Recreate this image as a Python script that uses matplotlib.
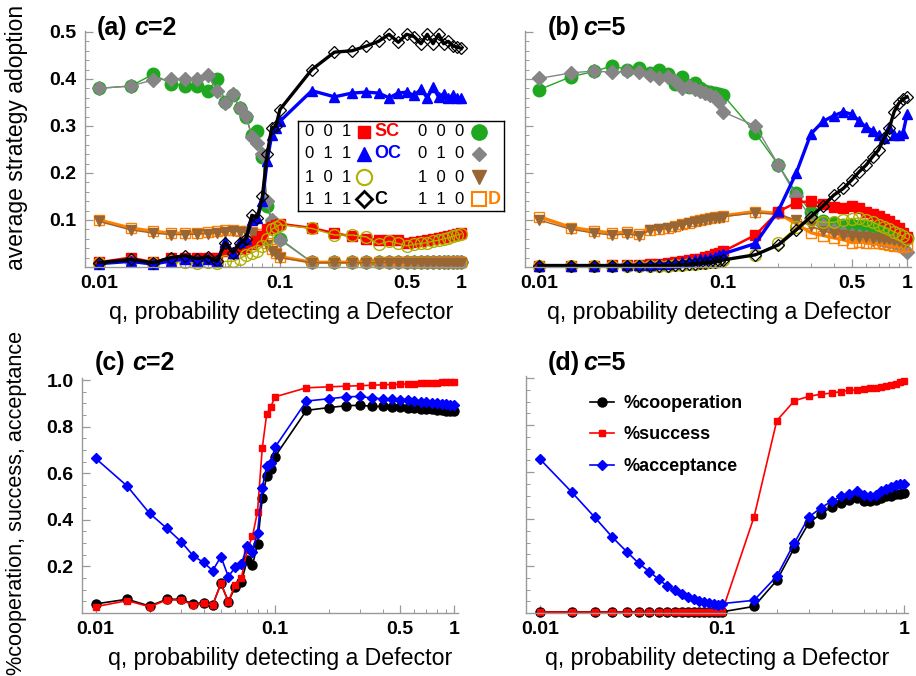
import matplotlib.pyplot as plt
from matplotlib.ticker import FixedLocator, MultipleLocator, NullFormatter

plt.rcParams['font.family'] = ['Liberation Sans', 'DejaVu Sans']

# q grid (probability of detecting a defector)
q = [0.01, 0.015, 0.02, 0.025, 0.03, 0.035, 0.04, 0.045, 0.05, 0.055,
     0.06, 0.065, 0.07, 0.075, 0.08, 0.085, 0.09, 0.095, 0.1,
     0.15, 0.2, 0.25, 0.3, 0.35, 0.4, 0.45, 0.5, 0.55, 0.6, 0.65,
     0.7, 0.75, 0.8, 0.85, 0.9, 0.95, 1.0]

# ---- panel (a), c=2 : average strategy adoption
a_001 = [0.010, 0.020, 0.010, 0.020, 0.020, 0.020, 0.020, 0.020, 0.035, 0.030,
         0.038, 0.042, 0.048, 0.055, 0.065, 0.080, 0.085, 0.090, 0.092,
         0.083, 0.072, 0.065, 0.060, 0.058, 0.057, 0.057, 0.050, 0.054, 0.056, 0.058,
         0.060, 0.062, 0.064, 0.066, 0.068, 0.070, 0.072]
a_011 = [0.007, 0.012, 0.006, 0.013, 0.017, 0.012, 0.016, 0.013, 0.054, 0.030,
         0.054, 0.060, 0.100, 0.104, 0.140, 0.225, 0.280, 0.295, 0.310,
         0.375, 0.362, 0.370, 0.372, 0.370, 0.360, 0.370, 0.372, 0.365, 0.378, 0.360,
         0.382, 0.362, 0.368, 0.360, 0.365, 0.360, 0.360]
a_101 = [0.008, 0.012, 0.008, 0.012, 0.010, 0.008, 0.010, 0.008, 0.012, 0.012,
         0.018, 0.025, 0.030, 0.035, 0.045, 0.060, 0.080, 0.085, 0.090,
         0.082, 0.068, 0.068, 0.064, 0.048, 0.055, 0.050, 0.045, 0.048, 0.050, 0.052,
         0.055, 0.057, 0.060, 0.062, 0.065, 0.068, 0.070]
a_111 = [0.009, 0.016, 0.009, 0.020, 0.024, 0.018, 0.022, 0.012, 0.052, 0.030,
         0.050, 0.060, 0.110, 0.105, 0.150, 0.240, 0.295, 0.300, 0.335,
         0.420, 0.457, 0.460, 0.470, 0.480, 0.495, 0.478, 0.495, 0.490, 0.475, 0.495,
         0.475, 0.495, 0.475, 0.480, 0.470, 0.468, 0.465]
a_000 = [0.380, 0.385, 0.410, 0.390, 0.385, 0.385, 0.375, 0.400, 0.350, 0.365,
         0.338, 0.320, 0.280, 0.290, 0.235, 0.130, 0.095, 0.085, 0.060,
         0.010, 0.010, 0.010, 0.010, 0.010, 0.010, 0.010, 0.010, 0.010, 0.010, 0.010,
         0.010, 0.010, 0.010, 0.010, 0.010, 0.010, 0.010]
a_010 = [0.380, 0.385, 0.398, 0.400, 0.400, 0.400, 0.408, 0.375, 0.348, 0.368,
         0.338, 0.322, 0.277, 0.263, 0.240, 0.140, 0.100, 0.090, 0.058,
         0.010, 0.010, 0.010, 0.010, 0.010, 0.010, 0.010, 0.010, 0.010, 0.010, 0.010,
         0.010, 0.010, 0.010, 0.010, 0.010, 0.010, 0.010]
a_100 = [0.097, 0.079, 0.072, 0.069, 0.069, 0.070, 0.071, 0.073, 0.075, 0.077,
         0.075, 0.074, 0.072, 0.066, 0.058, 0.046, 0.034, 0.027, 0.020,
         0.009, 0.009, 0.009, 0.009, 0.009, 0.009, 0.009, 0.009, 0.009, 0.009, 0.009,
         0.009, 0.009, 0.009, 0.009, 0.009, 0.009, 0.009]
a_110 = [0.100, 0.083, 0.076, 0.072, 0.072, 0.073, 0.074, 0.076, 0.078, 0.079,
         0.077, 0.076, 0.074, 0.070, 0.062, 0.050, 0.038, 0.030, 0.022,
         0.010, 0.010, 0.010, 0.010, 0.010, 0.010, 0.010, 0.010, 0.010, 0.010, 0.010,
         0.010, 0.010, 0.010, 0.010, 0.010, 0.010, 0.010]

# ---- panel (b), c=5
b_001 = [0.003, 0.003, 0.003, 0.004, 0.004, 0.005, 0.006, 0.007, 0.008, 0.010,
         0.012, 0.014, 0.016, 0.018, 0.021, 0.024, 0.027, 0.030, 0.033,
         0.068, 0.118, 0.137, 0.140, 0.135, 0.128, 0.126, 0.130, 0.125, 0.118, 0.112,
         0.108, 0.103, 0.098, 0.090, 0.082, 0.072, 0.064]
b_011 = [0.003, 0.003, 0.003, 0.003, 0.004, 0.004, 0.005, 0.006, 0.007, 0.008,
         0.010, 0.012, 0.014, 0.016, 0.018, 0.020, 0.022, 0.025, 0.028,
         0.050, 0.120, 0.200, 0.283, 0.310, 0.322, 0.330, 0.325, 0.310, 0.297, 0.290,
         0.280, 0.275, 0.295, 0.280, 0.280, 0.285, 0.325]
b_101 = [0.003, 0.003, 0.003, 0.003, 0.003, 0.003, 0.003, 0.003, 0.003, 0.004,
         0.005, 0.006, 0.007, 0.008, 0.009, 0.010, 0.011, 0.012, 0.014,
         0.025, 0.050, 0.085, 0.100, 0.095, 0.095, 0.100, 0.103, 0.104, 0.100, 0.095,
         0.090, 0.085, 0.080, 0.075, 0.070, 0.065, 0.060]
b_111 = [0.003, 0.003, 0.003, 0.003, 0.003, 0.003, 0.003, 0.003, 0.003, 0.004,
         0.005, 0.006, 0.007, 0.008, 0.009, 0.010, 0.011, 0.013, 0.015,
         0.026, 0.047, 0.079, 0.107, 0.130, 0.153, 0.167, 0.185, 0.203, 0.217, 0.235,
         0.249, 0.274, 0.295, 0.330, 0.348, 0.357, 0.362]
b_000 = [0.377, 0.405, 0.416, 0.428, 0.420, 0.423, 0.412, 0.418, 0.410, 0.390,
         0.405, 0.383, 0.392, 0.380, 0.375, 0.372, 0.370, 0.368, 0.366,
         0.285, 0.217, 0.157, 0.118, 0.097, 0.094, 0.090, 0.089, 0.088, 0.087, 0.086,
         0.085, 0.083, 0.080, 0.078, 0.074, 0.068, 0.062]
b_010 = [0.401, 0.413, 0.417, 0.414, 0.416, 0.414, 0.409, 0.401, 0.404, 0.395,
         0.380, 0.384, 0.378, 0.375, 0.370, 0.366, 0.362, 0.350, 0.330,
         0.300, 0.217, 0.150, 0.105, 0.090, 0.078, 0.072, 0.068, 0.066, 0.063, 0.060,
         0.058, 0.056, 0.054, 0.050, 0.046, 0.040, 0.032]
b_100 = [0.100, 0.080, 0.072, 0.068, 0.070, 0.067, 0.078, 0.080, 0.082, 0.086,
         0.089, 0.093, 0.095, 0.098, 0.100, 0.102, 0.104, 0.105, 0.107,
         0.115, 0.112, 0.100, 0.088, 0.076, 0.072, 0.068, 0.065, 0.064, 0.063, 0.062,
         0.061, 0.060, 0.059, 0.057, 0.055, 0.054, 0.053]
b_110 = [0.107, 0.084, 0.077, 0.072, 0.074, 0.070, 0.079, 0.081, 0.084, 0.088,
         0.091, 0.094, 0.097, 0.100, 0.102, 0.104, 0.106, 0.107, 0.109,
         0.118, 0.114, 0.092, 0.073, 0.067, 0.062, 0.058, 0.052, 0.053, 0.052, 0.050,
         0.050, 0.048, 0.046, 0.044, 0.045, 0.043, 0.045]

# ---- panel (c), c=2 : cooperation / success / acceptance
c_coop = [0.039, 0.059, 0.030, 0.059, 0.059, 0.039, 0.044, 0.034, 0.127, 0.049,
          0.110, 0.132, 0.227, 0.206, 0.295, 0.492, 0.589, 0.617, 0.671,
          0.870, 0.882, 0.890, 0.892, 0.887, 0.887, 0.885, 0.883, 0.882, 0.880, 0.878,
          0.877, 0.875, 0.872, 0.870, 0.868, 0.867, 0.867]
c_succ = [0.027, 0.053, 0.027, 0.056, 0.056, 0.034, 0.041, 0.034, 0.127, 0.049,
          0.120, 0.150, 0.270, 0.330, 0.435, 0.707, 0.854, 0.886, 0.928,
          0.967, 0.971, 0.974, 0.976, 0.978, 0.980, 0.981, 0.982, 0.984, 0.985, 0.986,
          0.987, 0.988, 0.989, 0.990, 0.991, 0.992, 0.993]
c_acc = [0.664, 0.545, 0.428, 0.363, 0.306, 0.246, 0.217, 0.182, 0.242, 0.156,
         0.196, 0.209, 0.288, 0.263, 0.345, 0.538, 0.631, 0.645, 0.711,
         0.910, 0.920, 0.928, 0.930, 0.922, 0.920, 0.918, 0.915, 0.913, 0.910, 0.908,
         0.905, 0.903, 0.900, 0.898, 0.896, 0.895, 0.893]

# ---- panel (d), c=5
d_coop = [0.005, 0.005, 0.005, 0.005, 0.005, 0.005, 0.005, 0.005, 0.005, 0.005,
          0.005, 0.005, 0.005, 0.005, 0.005, 0.005, 0.005, 0.005, 0.005,
          0.028, 0.139, 0.278, 0.384, 0.422, 0.452, 0.469, 0.483, 0.490, 0.476, 0.476,
          0.483, 0.490, 0.497, 0.500, 0.507, 0.508, 0.510]
d_succ = [0.004, 0.004, 0.004, 0.004, 0.004, 0.004, 0.004, 0.004, 0.004, 0.004,
          0.004, 0.004, 0.004, 0.004, 0.004, 0.004, 0.004, 0.004, 0.004,
          0.409, 0.819, 0.904, 0.922, 0.932, 0.936, 0.943, 0.948, 0.950, 0.953, 0.956,
          0.960, 0.964, 0.968, 0.972, 0.977, 0.982, 0.987]
d_acc = [0.656, 0.514, 0.408, 0.323, 0.261, 0.211, 0.176, 0.143, 0.115, 0.096,
         0.079, 0.068, 0.058, 0.051, 0.045, 0.041, 0.038, 0.036, 0.040,
         0.054, 0.157, 0.299, 0.409, 0.448, 0.476, 0.497, 0.508, 0.518, 0.504, 0.500,
         0.504, 0.518, 0.530, 0.537, 0.547, 0.550, 0.548]

GREEN = '#1fa81f'
GRAY = '#858585'
BROWN = '#996633'
ORANGE = '#ff8000'
OLIVE = '#b0b000'
RED = '#ff0000'
BLUE = '#0000ff'

# strategy styles, drawn in this order
strat_style = [
    ('000', dict(color=GREEN, lw=1.0, marker='o', ms=9, mfc=GREEN, mec=GREEN)),
    ('010', dict(color=GRAY, lw=1.0, marker='D', ms=7, mfc=GRAY, mec=GRAY)),
    ('110', dict(color=ORANGE, lw=2.4, marker='s', ms=7, mfc='none', mec=ORANGE, mew=1.0)),
    ('100', dict(color=BROWN, lw=1.0, marker='v', ms=6.5, mfc=BROWN, mec=BROWN)),
    ('001', dict(color=RED, lw=1.8, marker='s', ms=6.5, mfc=RED, mec=RED)),
    ('101', dict(color=OLIVE, lw=1.0, marker='o', ms=8.5, mfc='none', mec=OLIVE, mew=1.0)),
    ('011', dict(color=BLUE, lw=2.4, marker='^', ms=7.5, mfc=BLUE, mec=BLUE)),
    ('111', dict(color='black', lw=2.4, marker='D', ms=5.8, mfc='none', mec='black', mew=0.9)),
]

W, H = 916, 676
fig = plt.figure(figsize=(W / 100, H / 100), dpi=100)


def px_axes(l, t, r, b):
    return fig.add_axes([l / W, 1 - b / H, (r - l) / W, (b - t) / H])


ax_a = px_axes(85, 31, 465, 267)
ax_b = px_axes(525, 31, 911, 267)
ax_c = px_axes(82, 378, 458, 613)
ax_d = px_axes(526, 376, 908, 613)

AXC = '#999999'
for ax in (ax_a, ax_b, ax_c, ax_d):
    ax.set_xscale('log')
    ax.set_xlim(0.0084, 1.05)
    for s in ('top', 'right'):
        ax.spines[s].set_visible(False)
    for s in ('left', 'bottom'):
        ax.spines[s].set_color(AXC)
        ax.spines[s].set_linewidth(1.0)
    ax.tick_params(which='both', direction='in', color=AXC, labelsize=14)
    ax.tick_params(which='major', length=6, width=0.9)
    ax.tick_params(which='minor', length=3, width=0.7)
    ax.tick_params(axis='x', pad=6)
    ax.tick_params(axis='y', pad=6)
    ax.xaxis.set_minor_locator(FixedLocator([0.02, 0.03, 0.04, 0.05, 0.06, 0.07, 0.08, 0.09,
                                             0.2, 0.3, 0.4, 0.6, 0.7, 0.8, 0.9]))
    ax.xaxis.set_minor_formatter(NullFormatter())
    ax.patch.set_alpha(0)

for ax in (ax_a, ax_b, ax_c):
    ax.xaxis.set_major_locator(FixedLocator([0.01, 0.1, 0.5, 1]))
    ax.set_xticklabels(['0.01', '0.1', '0.5', '1'], fontweight='bold')
ax_d.xaxis.set_major_locator(FixedLocator([0.01, 0.1, 1]))
ax_d.set_xticklabels(['0.01', '0.1', '1'], fontweight='bold')

# top panels
keys = ['001', '011', '101', '111', '000', '010', '100', '110']
for ax, series in ((ax_a, [a_001, a_011, a_101, a_111, a_000, a_010, a_100, a_110]),
                   (ax_b, [b_001, b_011, b_101, b_111, b_000, b_010, b_100, b_110])):
    data = dict(zip(keys, series))
    for key, st in strat_style:
        ax.plot(q, data[key], clip_on=False, **st)
    ax.set_ylim(0, 0.502)
    ax.yaxis.set_major_locator(FixedLocator([0.1, 0.2, 0.3, 0.4, 0.5]))
    ax.yaxis.set_minor_locator(MultipleLocator(0.02))

ax_a.set_yticklabels(['0.1', '0.2', '0.3', '0.4', '0.5'], fontweight='bold')
ax_b.set_yticklabels([])

# bottom panels
for ax, coop, succ, acc in ((ax_c, c_coop, c_succ, c_acc), (ax_d, d_coop, d_succ, d_acc)):
    ax.plot(q, coop, color='black', lw=1.2, marker='o', ms=6.5, clip_on=False, label='%cooperation')
    ax.plot(q, succ, color=RED, lw=1.2, marker='s', ms=4.8, clip_on=False, label='%success')
    ax.plot(q, acc, color=BLUE, lw=1.2, marker='D', ms=4.8, clip_on=False, label='%acceptance')
    ax.set_ylim(0, 1.009)
    ax.yaxis.set_major_locator(FixedLocator([0.2, 0.4, 0.6, 0.8, 1.0]))
    ax.yaxis.set_minor_locator(MultipleLocator(0.05))

ax_c.set_yticklabels(['0.2', '0.4', '0.6', '0.8', '1.0'], fontweight='bold')
ax_d.set_yticklabels([])

ax_d.legend(loc='upper left', bbox_to_anchor=(590 / W, 1 - 395 / H), bbox_transform=fig.transFigure,
            frameon=False, prop=dict(weight='bold', size=13), handlelength=1.35,
            handletextpad=0.5, labelspacing=0.8, borderpad=0, borderaxespad=0)

# panel titles
for (xp, yp, tag, cval) in ((97, 28, '(a)', '=2'), (548, 28, '(b)', '=5'),
                            (95, 363, '(c)', '=2'), (548, 363, '(d)', '=5')):
    fig.text(xp / W, 1 - yp / H, tag, fontsize=18, fontweight='bold', va='center', ha='left')
    cx = xp + (37 if tag in ('(a)', '(c)') else 35)
    fig.text(cx / W, 1 - yp / H, 'c', fontsize=18, fontweight='bold', fontstyle='italic',
             va='center', ha='left')
    fig.text((cx + 14) / W, 1 - yp / H, cval, fontsize=18, fontweight='bold', va='center', ha='left')

# axis labels
xl = 'q, probability detecting a Defector'
for (xp, yp) in ((281, 313), (719, 313), (280, 658), (717, 658)):
    fig.text(xp / W, 1 - yp / H, xl, fontsize=16.7, ha='center', va='center')
fig.text(17 / W, 1 - 137 / H, 'average strategy adoption', fontsize=16.5, rotation=90,
         ha='center', va='center')
fig.text(17 / W, 1 - 503 / H, '%cooperation, success, acceptance', fontsize=15.6, rotation=90,
         ha='center', va='center')

# strategy key box for panel (a)
kx = fig.add_axes([298 / W, 1 - 211 / H, 206 / W, 90 / H])
kx.set_xlim(298, 504)
kx.set_ylim(211, 121)
kx.set_xticks([])
kx.set_yticks([])
for s in kx.spines.values():
    s.set_color('black')
    s.set_linewidth(1.0)
key_rows = [132, 154, 177, 199]
col1 = [('0  0  1', dict(marker='s', ms=9, mfc=RED, mec=RED), 'SC', RED),
        ('0  1  1', dict(marker='^', ms=10, mfc=BLUE, mec=BLUE), 'OC', BLUE),
        ('1  0  1', dict(marker='o', ms=11, mfc='none', mec=OLIVE, mew=1.5), '', OLIVE),
        ('1  1  1', dict(marker='D', ms=8, mfc='none', mec='black', mew=2), 'C', 'black')]
col2 = [('0  0  0', dict(marker='o', ms=11, mfc=GREEN, mec=GREEN), '', GREEN),
        ('0  1  0', dict(marker='D', ms=7.5, mfc=GRAY, mec=GRAY), '', GRAY),
        ('1  0  0', dict(marker='v', ms=10, mfc=BROWN, mec=BROWN), '', BROWN),
        ('1  1  0', dict(marker='s', ms=10, mfc='none', mec=ORANGE, mew=1.5), 'D', ORANGE)]
for yk, (c1, c2) in zip(key_rows, zip(col1, col2)):
    for (code, mk, lab, col), x0, xm, xlab in ((c1, 305, 364, 374), (c2, 418, 479, 488)):
        kx.text(x0, yk, code, fontsize=12, ha='left', va='center')
        kx.plot([xm], [yk], ls='none', **mk)
        if lab:
            kx.text(xlab, yk, lab, fontsize=13, fontweight='bold', color=col, ha='left', va='center')

fig.savefig('out.png', dpi=100)
